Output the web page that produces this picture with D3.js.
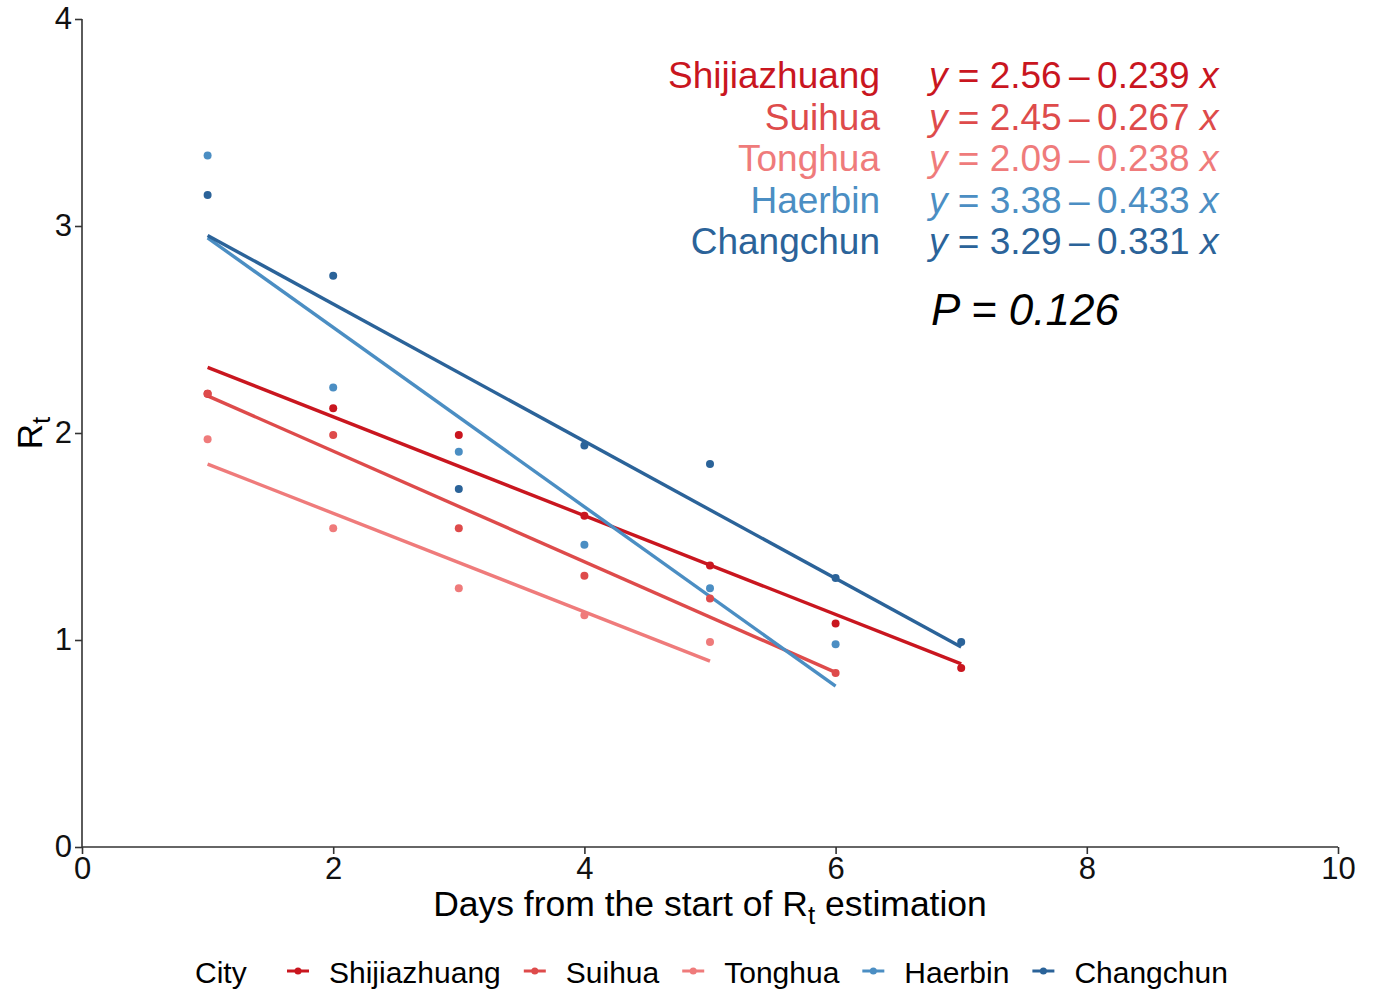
<!DOCTYPE html>
<html lang="en">
<head>
  <meta charset="UTF-8">
  <title>Rt by city</title>
  <style>
    body {
      margin: 0;
      background: #fff;
      font-family: "Liberation Sans", Arial, sans-serif;
    }
    svg { display: block; }
    .axis path, .axis line { stroke: #333; stroke-width: 1.6px; }
    .axis text { font-size: 31px; fill: #111; font-family: "Liberation Sans", Arial, sans-serif; }
  </style>
</head>
<body>
  <svg width="1375" height="991"></svg>

  <script src="https://d3js.org/d3.v7.min.js"></script>
  <script>
    // city names and colours
    const cities = ["Shijiazhuang", "Suihua", "Tonghua", "Haerbin", "Changchun"];
    const colors = ["#c9161f", "#de4b4b", "#ef7b7b", "#4b8ec3", "#2b6399"];

    // Rt values per day (day index starts at 1)
    const shijiazhuang = [2.19, 2.12, 1.99, 1.60, 1.36, 1.08, 0.865];
    const suihua = [2.19, 1.99, 1.54, 1.31, 1.20, 0.84];
    const tonghua = [1.97, 1.54, 1.25, 1.12, 0.99];
    const haerbin = [3.34, 2.22, 1.91, 1.46, 1.25, 0.98];
    const changchun = [3.15, 2.76, 1.73, 1.94, 1.85, 1.30, 0.99];
    const series = [shijiazhuang, suihua, tonghua, haerbin, changchun];

    // regression labels as printed on the chart
    const intercepts = ["2.56", "2.45", "2.09", "3.38", "3.29"];
    const slopes = ["0.239", "0.267", "0.238", "0.433", "0.331"];
    const pLabel = "0.126";

    const xTicks = [0, 2, 4, 6, 8, 10];
    const yTicks = [0, 1, 2, 3, 4];

    const svg = d3.select("svg");
    const margin = { left: 82, right: 37, top: 19, bottom: 144 };
    const W = 1375, H = 991;

    const x = d3.scaleLinear().domain([0, 10]).range([margin.left, W - margin.right]);
    const y = d3.scaleLinear().domain([0, 4]).range([H - margin.bottom, margin.top]);

    // axes
    svg.append("g")
      .attr("class", "axis")
      .attr("transform", `translate(0,${y(0)})`)
      .call(d3.axisBottom(x).tickValues(xTicks).tickSize(7).tickPadding(3).tickFormat(d3.format("d")))
      .call(g => g.select(".domain").attr("d", `M${x(0)},0H${x(10)}`));

    svg.append("g")
      .attr("class", "axis")
      .attr("transform", `translate(${x(0)},0)`)
      .call(d3.axisLeft(y).tickValues(yTicks).tickSize(7).tickPadding(3).tickFormat(d3.format("d")))
      .call(g => g.select(".domain").attr("d", `M0,${y(0)}V${y(4)}`));

    // least squares fit for each city, drawn over its own day range
    function fit(vals) {
      const xs = vals.map((v, i) => i + 1);
      const mx = d3.mean(xs), my = d3.mean(vals);
      const b = d3.sum(xs, (d, i) => (d - mx) * (vals[i] - my)) / d3.sum(xs, d => (d - mx) ** 2);
      return { a: my - b * mx, b: b, x0: xs[0], x1: xs[xs.length - 1] };
    }

    const plot = svg.append("g");

    series.forEach((vals, k) => {
      const f = fit(vals);
      plot.append("line")
        .attr("x1", x(f.x0)).attr("y1", y(f.a + f.b * f.x0))
        .attr("x2", x(f.x1)).attr("y2", y(f.a + f.b * f.x1))
        .attr("stroke", colors[k])
        .attr("stroke-width", 3.4);
    });

    series.forEach((vals, k) => {
      plot.append("g")
        .selectAll("circle")
        .data(vals)
        .join("circle")
        .attr("cx", (d, i) => x(i + 1))
        .attr("cy", d => y(d))
        .attr("r", 4)
        .attr("fill", colors[k]);
    });

    // equations
    const ann = svg.append("g").style("font-size", "37px");
    cities.forEach((c, k) => {
      const by = 88 + k * 41.5;
      ann.append("text")
        .attr("x", 880).attr("y", by)
        .attr("text-anchor", "end")
        .attr("fill", colors[k])
        .text(c);
      const eq = ann.append("text")
        .attr("x", 929).attr("y", by)
        .attr("fill", colors[k]);
      eq.append("tspan").attr("font-style", "italic").text("y");
      eq.append("tspan").text(` = ${intercepts[k]}\u2009\u2013\u2009${slopes[k]} `);
      eq.append("tspan").attr("font-style", "italic").text("x");
    });

    svg.append("text")
      .attr("x", 931).attr("y", 325)
      .style("font-size", "44px")
      .attr("font-style", "italic")
      .attr("fill", "#000")
      .text(`P = ${pLabel}`);

    // axis titles
    const xt = svg.append("text")
      .attr("x", (x(0) + x(10)) / 2).attr("y", 916)
      .attr("text-anchor", "middle")
      .style("font-size", "35.5px")
      .attr("fill", "#000");
    xt.append("tspan").text("Days from the start of R");
    xt.append("tspan").attr("dy", 8).style("font-size", "26px").text("t");
    xt.append("tspan").attr("dy", -8).text(" estimation");

    const yt = svg.append("text")
      .attr("transform", `translate(42,${(y(0) + y(4)) / 2}) rotate(-90)`)
      .attr("text-anchor", "middle")
      .style("font-size", "35px")
      .attr("fill", "#000");
    yt.append("tspan").text("R");
    yt.append("tspan").attr("dy", 8).style("font-size", "26px").text("t");

    // legend
    const leg = svg.append("g").attr("transform", "translate(0,971)").style("font-size", "30px");
    leg.append("text").attr("x", 195).attr("y", 12).attr("fill", "#000").text("City");
    let lx = 287;
    cities.forEach((c, k) => {
      leg.append("line")
        .attr("x1", lx).attr("x2", lx + 22)
        .attr("y1", 0).attr("y2", 0)
        .attr("stroke", colors[k]).attr("stroke-width", 3);
      leg.append("circle").attr("cx", lx + 11).attr("cy", 0).attr("r", 3.5).attr("fill", colors[k]);
      const t = leg.append("text").attr("x", lx + 42).attr("y", 12).attr("fill", "#000").text(c);
      lx += 42 + t.node().getComputedTextLength() + 23;
    });
  </script>
</body>
</html>
